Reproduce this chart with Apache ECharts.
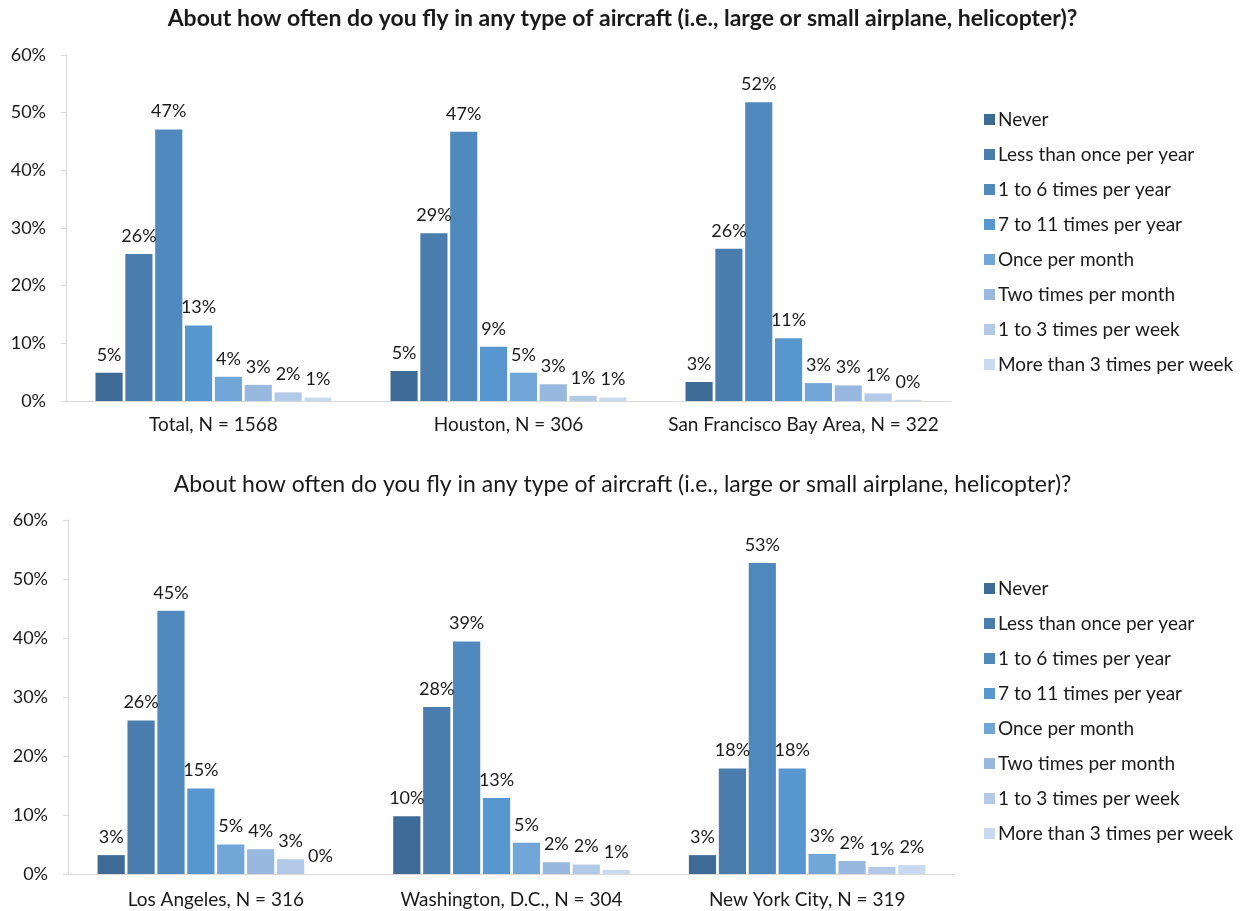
<!DOCTYPE html>
<html>
<head>
<meta charset="utf-8">
<script src="https://cdn.jsdelivr.net/npm/echarts@6/dist/echarts.min.js"></script>
<style>
  html, body { margin: 0; padding: 0; background: #fff; }
  #chart { width: 1245px; height: 911px; }
</style>
</head>
<body>
<div id="chart"></div>
<script>
// Survey question and response categories
const questionText = 'About how often do you fly in any type of aircraft (i.e., large or small airplane, helicopter)?';
const responses = [
  'Never',
  'Less than once per year',
  '1 to 6 times per year',
  '7 to 11 times per year',
  'Once per month',
  'Two times per month',
  '1 to 3 times per week',
  'More than 3 times per week'
];
const responseColors = ['#3E6A96', '#4A7DAD', '#4F89BE', '#5796CF', '#71A6D9', '#98B8E0', '#B2C9E7', '#C9D9EF'];

// Panel regions
const topRegions = ['Total, N = 1568', 'Houston, N = 306', 'San Francisco Bay Area, N = 322'];
const bottomRegions = ['Los Angeles, N = 316', 'Washington, D.C., N = 304', 'New York City, N = 319'];

// Percent of respondents per response, one array per region
const totalShares   = [4.9, 25.5, 47.1, 13.1, 4.2, 2.8, 1.5, 0.6];
const houstonShares = [5.2, 29.1, 46.7, 9.4, 4.9, 2.9, 0.9, 0.6];
const sfShares      = [3.3, 26.4, 51.8, 10.9, 3.1, 2.7, 1.3, 0.2];
const laShares      = [3.2, 26.0, 44.6, 14.5, 5.0, 4.2, 2.5, 0.0];
const dcShares      = [9.8, 28.3, 39.4, 12.9, 5.3, 2.0, 1.6, 0.7];
const nycShares     = [3.2, 17.9, 52.7, 17.9, 3.4, 2.2, 1.2, 1.5];

const topData = [totalShares, houstonShares, sfShares];
const bottomData = [laShares, dcShares, nycShares];

const FONT = 'Lato';
const TXT = '#1a1a1a';
const AXIS = '#D9D9D9';

function yAxis(gridIndex) {
  return {
    type: 'value', gridIndex, min: 0, max: 60, interval: 10,
    axisLabel: { formatter: '{value}%', fontFamily: FONT, fontSize: 18, color: TXT, margin: 20 },
    axisLine: { show: true, lineStyle: { color: AXIS, width: 1 } },
    axisTick: { show: true, length: 5, lineStyle: { color: AXIS } },
    splitLine: { show: false }
  };
}
function xAxis(gridIndex, cats, margin) {
  return {
    type: 'category', gridIndex, data: cats,
    axisLabel: { interval: 0, fontFamily: FONT, fontSize: 19, color: TXT, margin },
    axisLine: { lineStyle: { color: AXIS, width: 1 } },
    axisTick: { show: false }
  };
}
function panelSeries(gridIndex, data) {
  return responses.map((name, i) => ({
    name, type: 'bar',
    xAxisIndex: gridIndex, yAxisIndex: gridIndex,
    data: data.map(region => region[i]),
    barCategoryGap: '20%', barGap: '10%',
    itemStyle: { color: responseColors[i] },
    label: {
      show: true, position: 'top', distance: 9,
      formatter: p => Math.round(p.value) + '%',
      fontFamily: FONT, fontSize: 18, color: TXT
    },
    labelLayout: { hideOverlap: false },
    emphasis: { disabled: true },
    animation: false
  }));
}
function legend(top) {
  return {
    orient: 'vertical', left: 979, top,
    itemWidth: 11, itemHeight: 11, itemGap: 16,
    icon: 'rect', data: responses,
    textStyle: { fontFamily: FONT, fontSize: 19, color: TXT, padding: [0, 0, 0, -2] },
    selectedMode: false
  };
}

const chart = echarts.init(document.getElementById('chart'), null, { renderer: 'canvas' });
chart.setOption({
  backgroundColor: '#ffffff',
  animation: false,
  title: [
    { text: questionText, left: 'center', top: 2,
      textStyle: { fontFamily: FONT, fontSize: 23, fontWeight: 'bold', color: TXT } },
    { text: questionText, left: 'center', top: 468,
      textStyle: { fontFamily: FONT, fontSize: 23, fontWeight: 'normal', color: TXT } }
  ],
  legend: [legend(105), legend(574)],
  grid: [
    { left: 66, right: 294, top: 55, bottom: 510, containLabel: false },
    { left: 68, right: 290, top: 520, bottom: 37, containLabel: false }
  ],
  xAxis: [xAxis(0, topRegions, 14), xAxis(1, bottomRegions, 16)],
  yAxis: [yAxis(0), yAxis(1)],
  series: [...panelSeries(0, topData), ...panelSeries(1, bottomData)]
});
</script>
</body>
</html>
